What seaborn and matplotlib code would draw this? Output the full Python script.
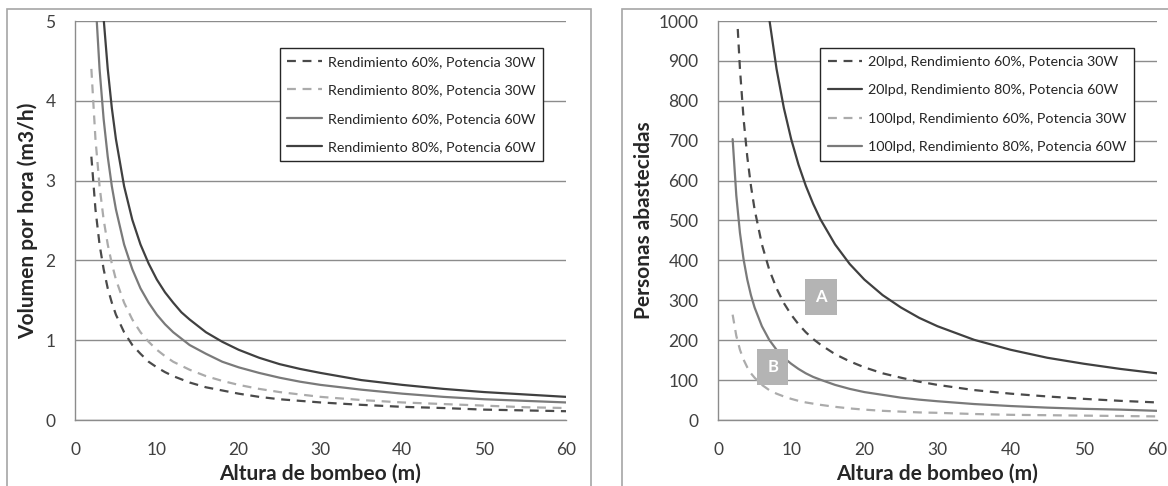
import numpy as np
import pandas as pd
import matplotlib
matplotlib.use("Agg")
import matplotlib.pyplot as plt
import seaborn as sns
from matplotlib.patches import Rectangle

# --- data ---
altura = [2, 2.5, 3, 3.5, 4, 4.5, 5, 6, 7, 8, 9, 10, 11, 12, 13, 14, 16, 18, 20,
          22.5, 25, 27.5, 30, 35, 40, 45, 50, 55, 60]

vol_60_30 = [3.3, 2.64, 2.2, 1.89, 1.65, 1.47, 1.32, 1.1, 0.94, 0.83, 0.73, 0.66,
             0.6, 0.55, 0.51, 0.47, 0.41, 0.37, 0.33, 0.29, 0.26, 0.24, 0.22,
             0.19, 0.165, 0.15, 0.13, 0.12, 0.11]
vol_80_30 = [4.4, 3.52, 2.93, 2.51, 2.2, 1.96, 1.76, 1.47, 1.26, 1.1, 0.98, 0.88,
             0.8, 0.73, 0.68, 0.63, 0.55, 0.49, 0.44, 0.39, 0.35, 0.32, 0.29,
             0.25, 0.22, 0.2, 0.18, 0.16, 0.15]
vol_60_60 = [6.6, 5.28, 4.4, 3.77, 3.3, 2.93, 2.64, 2.2, 1.89, 1.65, 1.47, 1.32,
             1.2, 1.1, 1.02, 0.94, 0.83, 0.73, 0.66, 0.59, 0.53, 0.48, 0.44,
             0.38, 0.33, 0.29, 0.26, 0.24, 0.22]
vol_80_60 = [8.8, 7.04, 5.87, 5.03, 4.4, 3.91, 3.52, 2.93, 2.51, 2.2, 1.96, 1.76,
             1.6, 1.47, 1.35, 1.26, 1.1, 0.98, 0.88, 0.78, 0.7, 0.64, 0.59,
             0.5, 0.44, 0.39, 0.35, 0.32, 0.29]

altura_20_6030 = [2.7, 3, 3.5, 4, 4.5, 5, 6, 7, 8, 9, 10, 11, 12, 13, 14, 16, 18,
                  20, 22.5, 25, 27.5, 30, 35, 40, 45, 50, 55, 60]
pers_20_6030 = [980, 880, 754, 660, 587, 528, 440, 377, 330, 293, 264, 240, 220,
                203, 189, 165, 147, 132, 117, 106, 96, 88, 75, 66, 59, 53, 48, 44]
altura_20_8060 = [7, 8, 9, 10, 11, 12, 13, 14, 16, 18, 20, 22.5, 25, 27.5, 30,
                  35, 40, 45, 50, 55, 60]
pers_20_8060 = [1006, 880, 782, 704, 640, 587, 542, 503, 440, 391, 352, 313, 282,
                256, 235, 201, 176, 156, 141, 128, 117]
pers_100_6030 = [264, 211, 176, 151, 132, 117, 106, 88, 75, 66, 59, 53, 48, 44,
                 41, 38, 33, 29, 26, 23, 21, 19, 18, 15, 13, 12, 11, 10, 9]
pers_100_8060 = [704, 563, 469, 402, 352, 313, 282, 235, 201, 176, 156, 141, 128,
                 117, 108, 101, 88, 78, 70, 63, 56, 51, 47, 40, 35, 31, 28, 26, 23]

labels_left = ["Rendimiento 60%, Potencia 30W", "Rendimiento 80%, Potencia 30W",
               "Rendimiento 60%, Potencia 60W", "Rendimiento 80%, Potencia 60W"]
labels_right = ["20lpd, Rendimiento 60%, Potencia 30W", "20lpd, Rendimiento 80%, Potencia 60W",
                "100lpd, Rendimiento 60%, Potencia 30W", "100lpd, Rendimiento 80%, Potencia 60W"]

# --- style ---
sns.set_style("white")
plt.rcParams["font.family"] = ["Lato", "DejaVu Sans"]

DARK = "#404040"
DARK_DASH = "#4a4a4a"
MID = "#7a7a7a"
LIGHT = "#ababab"
GRID = "#8c8c8c"
TXT = "#404040"
DASH = (0, (4, 3))

fig = plt.figure(figsize=(11.68, 4.86), dpi=100)
W, H = 1168, 486

# panel borders
fig.patches.append(Rectangle((7 / W, -0.02), 584 / W, (H - 9) / H + 0.02,
                             transform=fig.transFigure, fill=False,
                             edgecolor="#a6a6a6", lw=1.2))
fig.patches.append(Rectangle((622 / W, -0.02), 560 / W, (H - 9) / H + 0.02,
                             transform=fig.transFigure, fill=False,
                             edgecolor="#a6a6a6", lw=1.2))

ax1 = fig.add_axes([75 / W, (H - 420) / H, 491 / W, 399 / H])
ax2 = fig.add_axes([718 / W, (H - 420) / H, 439 / W, 399 / H])

# left panel
sns.lineplot(x=altura, y=vol_60_30, ax=ax1, color=DARK_DASH, lw=1.6, linestyle=DASH, label=labels_left[0])
sns.lineplot(x=altura, y=vol_80_30, ax=ax1, color=LIGHT, lw=1.6, linestyle=DASH, label=labels_left[1])
sns.lineplot(x=altura, y=vol_60_60, ax=ax1, color=MID, lw=1.6, label=labels_left[2])
sns.lineplot(x=altura, y=vol_80_60, ax=ax1, color=DARK, lw=1.6, label=labels_left[3])
ax1.set_ylim(0, 5)
ax1.set_yticks(range(0, 6))
ax1.set_ylabel("Volumen por hora (m3/h)", fontsize=15, fontweight="bold", color="#262626", labelpad=5)

# right panel
sns.lineplot(x=altura_20_6030, y=pers_20_6030, ax=ax2, color=DARK_DASH, lw=1.6, linestyle=DASH, label=labels_right[0])
sns.lineplot(x=altura_20_8060, y=pers_20_8060, ax=ax2, color=DARK, lw=1.6, label=labels_right[1])
sns.lineplot(x=altura, y=pers_100_6030, ax=ax2, color=LIGHT, lw=1.6, linestyle=DASH, label=labels_right[2])
sns.lineplot(x=altura, y=pers_100_8060, ax=ax2, color=MID, lw=1.6, label=labels_right[3])
ax2.set_ylim(0, 1000)
ax2.set_yticks(range(0, 1001, 100))
ax2.set_ylabel("Personas abastecidas", fontsize=15, fontweight="bold", color="#262626", labelpad=3)

# boxed labels A and B
for txt, xx, yy in [("A", 14.1, 308), ("B", 7.5, 133)]:
    ax2.text(xx, yy, txt, ha="center", va="center", color="white", fontsize=12,
             fontweight="bold",
             bbox=dict(boxstyle="square,pad=0.6", facecolor="#b4b4b4", edgecolor="none"))

for ax in (ax1, ax2):
    ax.set_xlim(0, 60)
    ax.set_xticks(range(0, 61, 10))
    ax.set_xlabel("Altura de bombeo (m)", fontsize=15, fontweight="bold", color="#262626", labelpad=4)
    ax.grid(axis="y", color=GRID, lw=1)
    ax.grid(axis="x", visible=False)
    ax.set_axisbelow(True)
    for s in ("top", "right"):
        ax.spines[s].set_visible(False)
    for s in ("left", "bottom"):
        ax.spines[s].set_color(GRID)
        ax.spines[s].set_linewidth(1)
    ax.tick_params(axis="both", which="major", direction="out", length=5, width=1,
                   color=GRID, labelcolor=TXT, labelsize=12.5)
    ax.tick_params(axis="x", pad=11)
    ax.tick_params(axis="y", pad=9)
    ax.set_facecolor("none")

leg_kw = dict(loc="upper right", borderaxespad=0, fontsize=10.3, frameon=True, fancybox=False,
              framealpha=1, edgecolor="#262626", handlelength=2.4, handletextpad=0.4,
              labelspacing=1.15, borderpad=0.55)
l1 = ax1.legend(bbox_to_anchor=((543 - 75) / 491, (420 - 48) / 399), **leg_kw)
l2 = ax2.legend(bbox_to_anchor=((1134 - 718) / 439, (420 - 48) / 399), **leg_kw)
for l in (l1, l2):
    l.get_frame().set_linewidth(1)
    for t in l.get_texts():
        t.set_color("#262626")

fig.savefig("out.png", dpi=100)
